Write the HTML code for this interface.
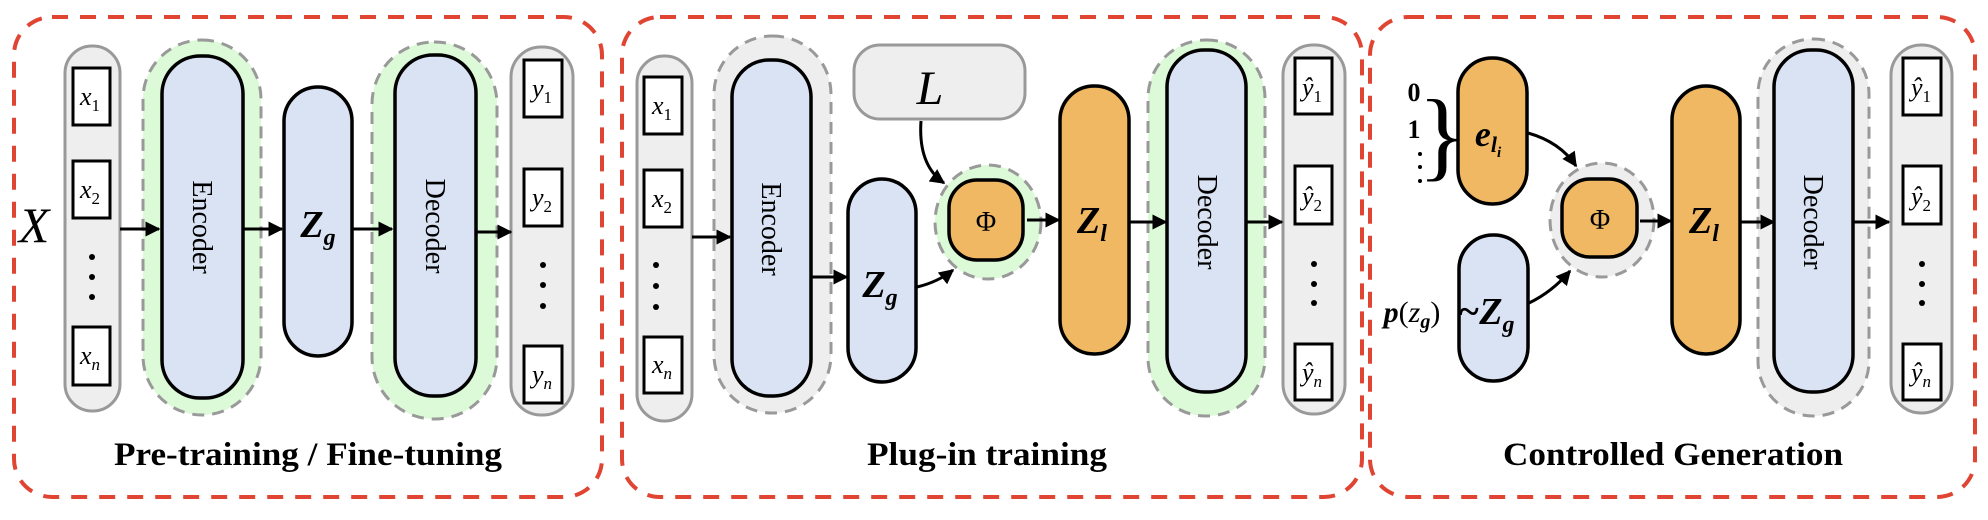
<!DOCTYPE html>
<html><head><meta charset="utf-8"><style>
html,body{margin:0;padding:0;background:#fff;}
svg{display:block;}
text{font-family:"Liberation Serif","DejaVu Serif",serif;}
</style></head><body>
<svg width="1988" height="520" viewBox="0 0 1988 520" xmlns="http://www.w3.org/2000/svg">
<defs>
<marker id="ah" viewBox="0 0 10 10" refX="9" refY="5" markerWidth="5" markerHeight="5" orient="auto" markerUnits="strokeWidth">
<path d="M0,0 L10,5 L0,10 z" fill="#000"/></marker>
</defs>
<g fill="none" stroke="#e04432" stroke-width="4" stroke-dasharray="16,12">
<rect x="14" y="17" width="588" height="480" rx="38"/>
<rect x="622" y="17" width="740" height="480" rx="38"/>
<rect x="1370" y="17" width="605" height="480" rx="38"/>
</g>

<!-- PANEL 1 -->
<rect x="65" y="46" width="55" height="365" rx="27" fill="#eeeeee" stroke="#999" stroke-width="3"/>
<g fill="#fff" stroke="#000" stroke-width="3">
<rect x="73" y="68" width="37" height="57"/><rect x="73" y="161" width="37" height="57"/><rect x="73" y="327" width="37" height="58"/>
</g>
<g font-size="26" font-style="italic" text-anchor="middle">
<text x="90" y="105">x<tspan font-size="17" font-style="normal" dy="6">1</tspan></text>
<text x="90" y="198">x<tspan font-size="17" font-style="normal" dy="6">2</tspan></text>
<text x="90" y="364">x<tspan font-size="17" dy="6">n</tspan></text>
</g>
<g fill="#000"><circle cx="92" cy="257" r="3"/><circle cx="92" cy="277" r="3"/><circle cx="92" cy="297" r="3"/></g>
<text x="34" y="242" font-size="50" font-style="italic" text-anchor="middle">X</text>
<rect x="143" y="40" width="118" height="375" rx="59" fill="#dcf9d8" stroke="#999" stroke-width="3" stroke-dasharray="12,8"/>
<rect x="162" y="56" width="81" height="342" rx="38" fill="#dae3f3" stroke="#000" stroke-width="3.5"/>
<text transform="translate(202,227) rotate(90)" font-size="28" text-anchor="middle" dy="9">Encoder</text>
<rect x="284" y="87" width="68" height="269" rx="34" fill="#dae3f3" stroke="#000" stroke-width="3.5"/>
<text x="318" y="237" font-size="38" font-weight="bold" font-style="italic" text-anchor="middle">Z<tspan font-size="24" dy="8">g</tspan></text>
<rect x="372" y="42" width="125" height="377" rx="62" fill="#dcf9d8" stroke="#999" stroke-width="3" stroke-dasharray="12,8"/>
<rect x="395" y="55" width="81" height="341" rx="38" fill="#dae3f3" stroke="#000" stroke-width="3.5"/>
<text transform="translate(435,226) rotate(90)" font-size="28" text-anchor="middle" dy="9">Decoder</text>
<rect x="511" y="47" width="62" height="368" rx="30" fill="#eeeeee" stroke="#999" stroke-width="3"/>
<g fill="#fff" stroke="#000" stroke-width="3">
<rect x="524" y="60" width="38" height="57"/><rect x="524" y="169" width="38" height="57"/><rect x="524" y="346" width="38" height="57"/>
</g>
<g font-size="26" font-style="italic" text-anchor="middle">
<text x="542" y="97">y<tspan font-size="17" font-style="normal" dy="6">1</tspan></text>
<text x="542" y="206">y<tspan font-size="17" font-style="normal" dy="6">2</tspan></text>
<text x="542" y="383">y<tspan font-size="17" dy="6">n</tspan></text>
</g>
<g fill="#000"><circle cx="543" cy="265" r="3"/><circle cx="543" cy="285" r="3"/><circle cx="543" cy="306" r="3"/></g>
<g stroke="#000" stroke-width="3" marker-end="url(#ah)">
<line x1="120" y1="229" x2="159" y2="229"/><line x1="243" y1="229" x2="282" y2="229"/>
<line x1="352" y1="229" x2="392" y2="229"/><line x1="476" y1="232" x2="511" y2="232"/>
</g>
<text x="308" y="465" font-size="33" font-weight="bold" text-anchor="middle" textLength="388" lengthAdjust="spacingAndGlyphs">Pre-training / Fine-tuning</text>

<!-- PANEL 2 -->
<rect x="637" y="56" width="55" height="365" rx="27" fill="#eeeeee" stroke="#999" stroke-width="3"/>
<g fill="#fff" stroke="#000" stroke-width="3">
<rect x="644" y="77" width="38" height="57"/><rect x="644" y="170" width="38" height="57"/><rect x="644" y="337" width="38" height="56"/>
</g>
<g font-size="26" font-style="italic" text-anchor="middle">
<text x="662" y="114">x<tspan font-size="17" font-style="normal" dy="6">1</tspan></text>
<text x="662" y="207">x<tspan font-size="17" font-style="normal" dy="6">2</tspan></text>
<text x="662" y="373">x<tspan font-size="17" dy="6">n</tspan></text>
</g>
<g fill="#000"><circle cx="656" cy="265" r="3"/><circle cx="656" cy="286" r="3"/><circle cx="656" cy="307" r="3"/></g>
<rect x="714" y="36" width="117" height="377" rx="58" fill="#eeeeee" stroke="#999" stroke-width="3" stroke-dasharray="12,8"/>
<rect x="732" y="60" width="79" height="336" rx="37" fill="#dae3f3" stroke="#000" stroke-width="3.5"/>
<text transform="translate(771,229) rotate(90)" font-size="28" text-anchor="middle" dy="9">Encoder</text>
<rect x="848" y="179" width="68" height="203" rx="34" fill="#dae3f3" stroke="#000" stroke-width="3.5"/>
<text x="880" y="297" font-size="38" font-weight="bold" font-style="italic" text-anchor="middle">Z<tspan font-size="24" dy="8">g</tspan></text>
<rect x="854" y="45" width="171" height="74" rx="26" fill="#eeeeee" stroke="#999" stroke-width="3"/>
<text x="930" y="104" font-size="48" font-style="italic" text-anchor="middle">L</text>
<ellipse cx="988" cy="222" rx="53" ry="57" fill="#dcf9d8" stroke="#999" stroke-width="3" stroke-dasharray="12,8"/>
<rect x="949" y="180" width="74" height="80" rx="28" fill="#f0b862" stroke="#000" stroke-width="3.5"/>
<text x="986" y="231" font-size="28" text-anchor="middle">Φ</text>
<rect x="1060" y="86" width="69" height="268" rx="34" fill="#f0b862" stroke="#000" stroke-width="3.5"/>
<text x="1092" y="233" font-size="38" font-weight="bold" font-style="italic" text-anchor="middle">Z<tspan font-size="24" dy="8">l</tspan></text>
<rect x="1148" y="40" width="117" height="376" rx="58" fill="#dcf9d8" stroke="#999" stroke-width="3" stroke-dasharray="12,8"/>
<rect x="1167" y="50" width="79" height="342" rx="37" fill="#dae3f3" stroke="#000" stroke-width="3.5"/>
<text transform="translate(1207,222) rotate(90)" font-size="28" text-anchor="middle" dy="9">Decoder</text>
<rect x="1283" y="45" width="62" height="369" rx="30" fill="#eeeeee" stroke="#999" stroke-width="3"/>
<g fill="#fff" stroke="#000" stroke-width="3">
<rect x="1295" y="58" width="37" height="56"/><rect x="1295" y="166" width="37" height="58"/><rect x="1295" y="344" width="37" height="56"/>
</g>
<g font-size="26" font-style="italic" text-anchor="middle">
<text x="1312" y="96">ŷ<tspan font-size="17" font-style="normal" dy="6">1</tspan></text>
<text x="1312" y="205">ŷ<tspan font-size="17" font-style="normal" dy="6">2</tspan></text>
<text x="1312" y="381">ŷ<tspan font-size="17" dy="6">n</tspan></text>
</g>
<g fill="#000"><circle cx="1314" cy="264" r="3"/><circle cx="1314" cy="284" r="3"/><circle cx="1314" cy="303" r="3"/></g>
<g stroke="#000" stroke-width="3" fill="none" marker-end="url(#ah)">
<line x1="692" y1="237" x2="730" y2="237"/><line x1="811" y1="277" x2="847" y2="277"/>
<path d="M917,287 Q938,282 953,270"/><path d="M921,121 Q918,165 944,183"/>
<line x1="1027" y1="220" x2="1059" y2="220"/><line x1="1129" y1="222" x2="1166" y2="222"/>
<line x1="1246" y1="222" x2="1282" y2="222"/>
</g>
<text x="987" y="465" font-size="33" font-weight="bold" text-anchor="middle" textLength="240" lengthAdjust="spacingAndGlyphs">Plug-in training</text>

<!-- PANEL 3 -->
<text x="1414" y="101" font-size="26" font-weight="bold" text-anchor="middle">0</text>
<text x="1414" y="138" font-size="26" font-weight="bold" text-anchor="middle">1</text>
<g fill="#000"><circle cx="1420" cy="154" r="2"/><circle cx="1420" cy="167" r="2"/><circle cx="1420" cy="181" r="2"/></g>
<text x="1442" y="168" font-size="100" text-anchor="middle" transform="translate(0,0)">}</text>
<rect x="1458" y="58" width="69" height="146" rx="34" fill="#f0b862" stroke="#000" stroke-width="3.5"/>
<text x="1488" y="146" font-size="36" font-weight="bold" font-style="italic" text-anchor="middle">e<tspan font-size="22" dy="6">l</tspan><tspan font-size="15" dy="5">i</tspan></text>
<rect x="1459" y="235" width="69" height="146" rx="34" fill="#dae3f3" stroke="#000" stroke-width="3.5"/>
<text x="1486" y="324" font-size="38" font-weight="bold" font-style="italic" text-anchor="middle">~Z<tspan font-size="24" dy="8">g</tspan></text>
<text x="1412" y="322" font-size="30" font-weight="bold" font-style="italic" text-anchor="middle">p<tspan font-weight="normal" font-style="normal">(</tspan><tspan font-weight="normal">z</tspan><tspan font-size="20" dy="6">g</tspan><tspan font-weight="normal" font-style="normal" dy="-6">)</tspan></text>
<ellipse cx="1602" cy="220" rx="52" ry="57" fill="#eeeeee" stroke="#999" stroke-width="3" stroke-dasharray="12,8"/>
<rect x="1562" y="179" width="75" height="78" rx="28" fill="#f0b862" stroke="#000" stroke-width="3.5"/>
<text x="1600" y="229" font-size="28" text-anchor="middle">Φ</text>
<rect x="1672" y="86" width="68" height="268" rx="34" fill="#f0b862" stroke="#000" stroke-width="3.5"/>
<text x="1704" y="233" font-size="38" font-weight="bold" font-style="italic" text-anchor="middle">Z<tspan font-size="24" dy="8">l</tspan></text>
<rect x="1758" y="39" width="111" height="377" rx="55" fill="#eeeeee" stroke="#999" stroke-width="3" stroke-dasharray="12,8"/>
<rect x="1774" y="50" width="79" height="342" rx="37" fill="#dae3f3" stroke="#000" stroke-width="3.5"/>
<text transform="translate(1813,222) rotate(90)" font-size="28" text-anchor="middle" dy="9">Decoder</text>
<rect x="1891" y="45" width="61" height="368" rx="30" fill="#eeeeee" stroke="#999" stroke-width="3"/>
<g fill="#fff" stroke="#000" stroke-width="3">
<rect x="1903" y="58" width="38" height="57"/><rect x="1903" y="166" width="38" height="58"/><rect x="1903" y="344" width="38" height="56"/>
</g>
<g font-size="26" font-style="italic" text-anchor="middle">
<text x="1921" y="96">ŷ<tspan font-size="17" font-style="normal" dy="6">1</tspan></text>
<text x="1921" y="205">ŷ<tspan font-size="17" font-style="normal" dy="6">2</tspan></text>
<text x="1921" y="381">ŷ<tspan font-size="17" dy="6">n</tspan></text>
</g>
<g fill="#000"><circle cx="1922" cy="264" r="3"/><circle cx="1922" cy="284" r="3"/><circle cx="1922" cy="303" r="3"/></g>
<g stroke="#000" stroke-width="3" fill="none" marker-end="url(#ah)">
<path d="M1528,133 Q1560,142 1576,166"/><path d="M1529,303 Q1552,292 1570,271"/>
<line x1="1640" y1="221" x2="1671" y2="221"/><line x1="1740" y1="222" x2="1774" y2="222"/>
<line x1="1853" y1="222" x2="1889" y2="222"/>
</g>
<text x="1673" y="465" font-size="33" font-weight="bold" text-anchor="middle" textLength="340" lengthAdjust="spacingAndGlyphs">Controlled Generation</text>
</svg>
</body></html>
